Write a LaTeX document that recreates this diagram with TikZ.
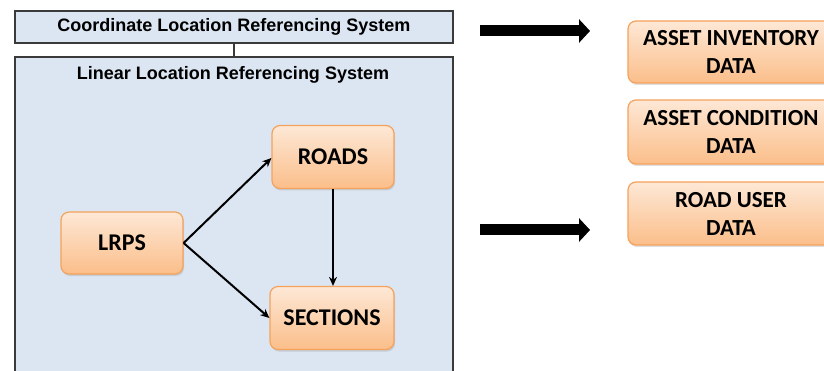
\documentclass[tikz,border=0pt]{standalone}
\usepackage{fontspec}
\setmainfont{Liberation Sans}
\newfontfamily\calib{Carlito}
\usetikzlibrary{arrows.meta,shadows}
\definecolor{sysfill}{HTML}{DCE6F2}
\definecolor{sysdraw}{HTML}{3A3A3A}
\definecolor{orgtop}{HTML}{FDE8D6}
\definecolor{orgbot}{HTML}{FBBE8A}
\definecolor{orgdraw}{HTML}{F5A25C}
\tikzset{
  sysbox/.style={draw=sysdraw, fill=sysfill, line width=1.6pt},
  systext/.style={font=\bfseries\fontsize{18}{21}\selectfont, inner sep=0pt},
  orgbox/.style={draw=orgdraw, line width=1.2pt, rounded corners=8pt,
    top color=orgtop, bottom color=orgbot,
    drop shadow={opacity=0.25, shadow xshift=1pt, shadow yshift=-2pt},
    font=\calib\bfseries\fontsize{23}{28}\selectfont, align=center, inner sep=0pt},
  bigtext/.style={font=\calib\bfseries\fontsize{24}{28}\selectfont},
  thin/.style={line width=2pt, -{Stealth[length=9pt,width=8pt]}},
  fat/.style={line width=11pt, -{Triangle[length=11pt,width=23pt]}}
}
\begin{document}
\begin{tikzpicture}[x=1pt,y=-1pt]
\clip (0,0) rectangle (824,371);
\useasboundingbox (0,0) rectangle (824,371);
\fill[white] (0,0) rectangle (824,371);
% system boxes
\node[sysbox, minimum width=438pt, minimum height=32pt, anchor=north west] (cl) at (14,10) {};
\node[systext] at (cl.center) {Coordinate Location Referencing System};
\node[sysbox, minimum width=438pt, minimum height=330pt, anchor=north west] (ll) at (14,56) {};
\node[systext] (lltext) at (233,75) {Linear Location Referencing System};
\draw[sysdraw, line width=2pt] (cl.south) -- (ll.north);
% inner boxes
\node[orgbox, bigtext, minimum width=122pt, minimum height=62pt] (lrps) at (122,243) {LRPS};
\node[orgbox, bigtext, minimum width=122pt, minimum height=63pt] (roads) at (333,157) {ROADS};
\node[orgbox, bigtext, minimum width=124pt, minimum height=63pt] (sect) at (332,318) {SECTIONS};
\draw[thin] (lrps.east) -- (roads.west |- 0,158) ;
\draw[thin] (lrps.east) -- (sect.west |- 0,318);
\draw[thin] (roads.south) -- (sect.north -| roads.south);
% right boxes
\node[orgbox, minimum width=206pt, minimum height=62pt] (inv) at (731,52) {ASSET INVENTORY\\DATA};
\node[orgbox, minimum width=206pt, minimum height=64pt] (cond) at (731,132) {ASSET CONDITION\\DATA};
\node[orgbox, minimum width=206pt, minimum height=63pt] (user) at (731,213.5) {ROAD USER\\DATA};
% fat arrows
\coordinate (a1s) at (480,31);
\coordinate (a1e) at (590,31);
\coordinate (a2s) at (480,230);
\coordinate (a2e) at (590,230);
\draw[fat, black!20, shift={(1pt,-2pt)}] (a1s) -- (a1e);
\draw[fat, black!20, shift={(1pt,-2pt)}] (a2s) -- (a2e);
\draw[fat] (a1s) -- (a1e);
\draw[fat] (a2s) -- (a2e);
\end{tikzpicture}
\end{document}
